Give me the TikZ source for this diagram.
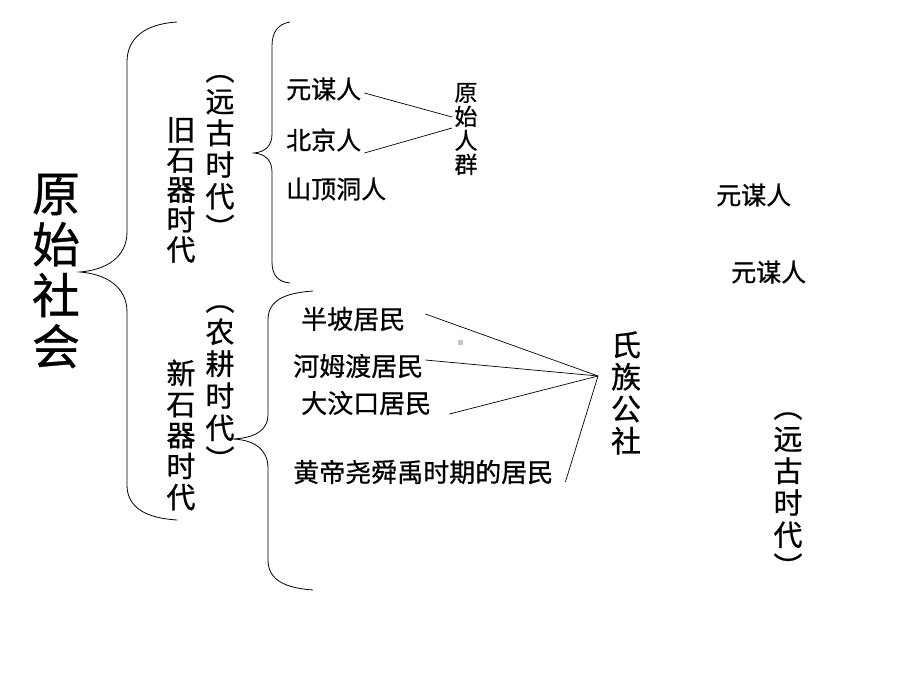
\documentclass[tikz,border=0pt]{standalone}
\usepackage{fontspec}
\setmainfont{Noto Sans CJK SC}[FakeBold=0.7]
\begin{document}
\begin{tikzpicture}[x=1pt,y=-1pt,
  txt/.style={inner sep=0pt,anchor=west,font=\fontsize{26}{28}\selectfont},
  vtxt/.style={inner sep=0pt,align=center},
  brace/.style={draw=black,line width=0.8pt},
  link/.style={draw=black,line width=0.7pt}]
\useasboundingbox (0,0) rectangle (920,690);
% vertical titles
\node[vtxt,font=\fontsize{48}{51}\selectfont] (ys) at (56,271) {原\\始\\社\\会};
\node[vtxt,font=\fontsize{29}{30}\selectfont] (jsq) at (181,190) {旧\\石\\器\\时\\代};
\node[vtxt,font=\fontsize{29}{31.7}\selectfont] (ygsd) at (220,157) {︵\\远\\古\\时\\代\\︶};
\node[vtxt,font=\fontsize{29}{31}\selectfont] (xsq) at (181,435) {新\\石\\器\\时\\代};
\node[vtxt,font=\fontsize{29}{32}\selectfont] (ngsd) at (220,388) {︵\\农\\耕\\时\\代\\︶};
\node[vtxt,font=\fontsize{23}{24}\selectfont] (ysrq) at (466,129) {原\\始\\人\\群};
\node[vtxt,font=\fontsize{30}{32}\selectfont] (szgs) at (626,393) {氏\\族\\公\\社};
\node[vtxt,font=\fontsize{29}{32}\selectfont] (ygsd2) at (788,495) {︵\\远\\古\\时\\代\\︶};
% horizontal texts
\node[txt,font=\fontsize{25}{28}\selectfont] (ymr) at (286,89) {元谋人};
\node[txt,font=\fontsize{25}{28}\selectfont] (bjr) at (286,140) {北京人};
\node[txt,font=\fontsize{25}{28}\selectfont] (sddr) at (286,189) {山顶洞人};
\node[txt] (bp) at (301,319) {半坡居民};
\node[txt] (hmd) at (293,366) {河姆渡居民};
\node[txt] (dwk) at (301,403) {大汶口居民};
\node[txt] (hd) at (293,472) {黄帝尧舜禹时期的居民};
\node[txt,font=\fontsize{25}{28}\selectfont] (ymr2) at (716,195) {元谋人};
\node[txt,font=\fontsize{25}{28}\selectfont] (ymr3) at (731,272) {元谋人};
% small grey mark
\node[fill=black!22,minimum size=5pt,inner sep=0pt] (dot) at (460,342) {};
% braces
\draw[brace] (177,22) .. controls (145,24) and (127,38) .. (127,62) -- (127,232)
  .. controls (127,258) and (105,270) .. (80,272)
  .. controls (105,274) and (127,286) .. (127,312) -- (127,485)
  .. controls (127,507) and (145,518) .. (177,520);
\draw[brace] (290,22) .. controls (278,24) and (272,32) .. (272,46) -- (272,134)
  .. controls (272,146) and (265,152) .. (254,153)
  .. controls (265,154) and (272,160) .. (272,172) -- (272,262)
  .. controls (272,275) and (278,282) .. (290,283);
\draw[brace] (313,291) .. controls (285,293) and (268,300) .. (268,320) -- (268,415)
  .. controls (268,430) and (255,438) .. (233,439)
  .. controls (255,440) and (268,450) .. (268,468) -- (268,560)
  .. controls (268,580) and (285,588) .. (313,590);
% connectors
\coordinate (p1) at (452,117);
\coordinate (p2) at (452,128);
\coordinate (apex) at (598,376);
\draw[link] ([xshift=3pt,yshift=-4pt]ymr.east) -- (p1);
\draw[link] ([xshift=3pt,yshift=-13pt]bjr.east) -- (p2);
\draw[link] ([xshift=20pt,yshift=5pt]bp.east) -- (apex);
\draw[link] ([xshift=2pt,yshift=6pt]hmd.east) -- (apex);
\draw[link] ([xshift=18pt,yshift=-11pt]dwk.east) -- (apex);
\draw[link] ([xshift=12pt,yshift=-10pt]hd.east) -- (apex);
\end{tikzpicture}
\end{document}
